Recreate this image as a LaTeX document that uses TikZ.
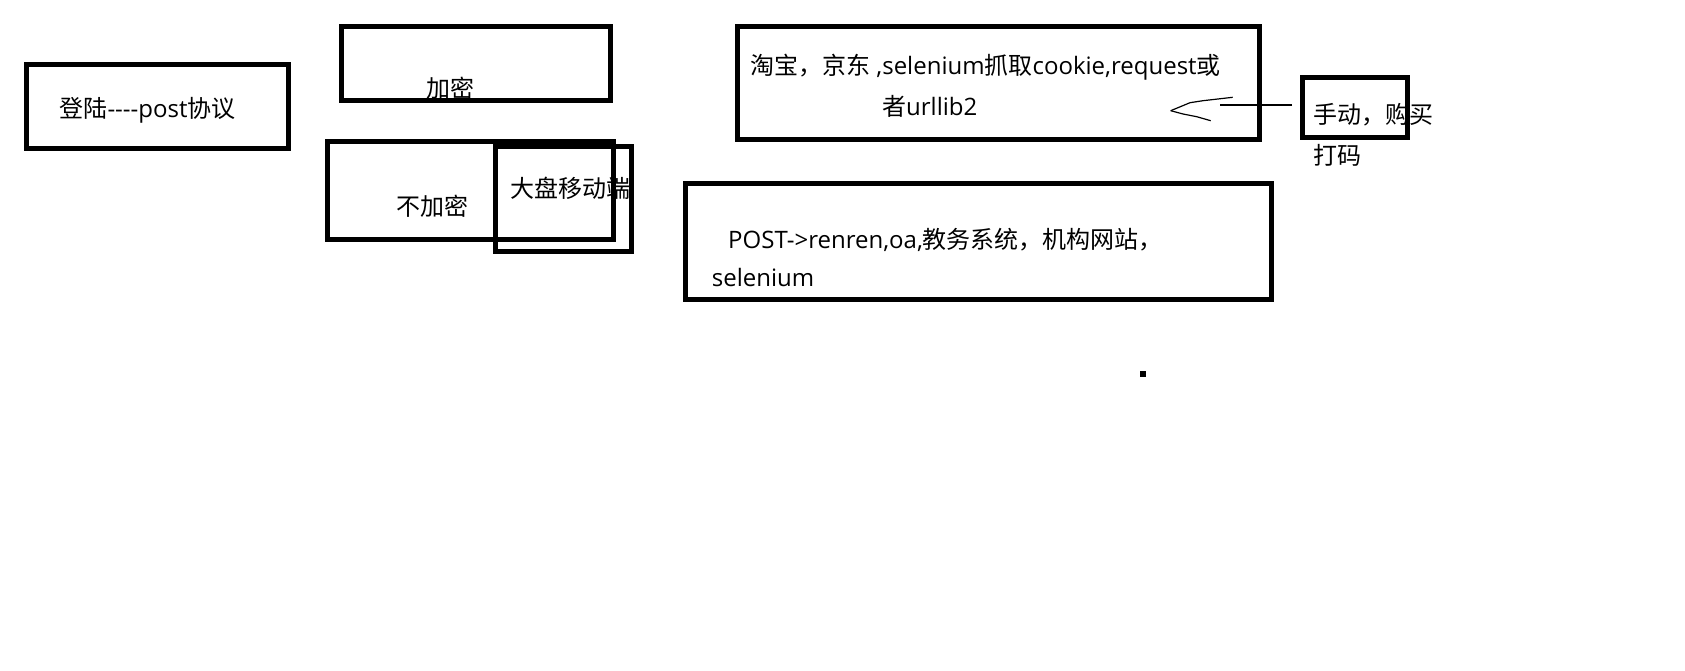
\documentclass[tikz,border=0pt]{standalone}
\usepackage{fontspec}
\newfontfamily\cjk{Noto Sans CJK SC}
\newfontfamily\lat{Open Sans}
\newcommand\zh[1]{{\cjk #1}}
\begin{document}
\begin{tikzpicture}[x=1pt,y=-1pt,
    box/.style={draw,line width=5pt,inner sep=0pt,outer sep=0pt},
    txt/.style={inner sep=0pt,anchor=west,font=\lat\fontsize{24pt}{28pt}\selectfont},
    pen/.style={line width=1.2pt}]
    \fill[white](0,0)rectangle(1685,671);
    \useasboundingbox(0,0)rectangle(1685,671);
    \node[box,minimum width=262pt,minimum height=84pt](login)at(157.9,106.2){};
    \node[box,minimum width=268.4pt,minimum height=74pt](enc)at(476,63.8){};
    \node[box,minimum width=286pt,minimum height=97.5pt](noenc)at(470.5,190.4){};
    \node[box,minimum width=136pt,minimum height=104.2pt](mobile)at(563.8,198.9){};
    \node[box,minimum width=522pt,minimum height=113pt](taobao)at(998,83.5){};
    \node[box,minimum width=105pt,minimum height=60pt](manual)at(1354.5,108){};
    \node[box,minimum width=585.5pt,minimum height=116pt](post)at(978.3,241.5){};
    \node[txt](loginT)at(59.3,110){\zh{登陆}----post\zh{协议}};
    \node[txt](encT)at(426,88.3){\zh{加密}};
    \node[txt](noencT)at(396,206){\zh{不加密}};
    \node[txt](mobileT)at(510,188.3){\zh{大盘移动端}};
    \node[txt](taobaoA)at(750,67){\zh{淘宝，京东} ,selenium\zh{抓取}cookie,request\zh{或}};
    \node[txt](taobaoB)at(882,106){\zh{者}urllib2};
    \node[txt](manualA)at(1313,115){\zh{手动，购买}};
    \node[txt](manualB)at(1313,155){\zh{打码}};
    \node[txt](postA)at(728,240){POST->renren,oa,\zh{教务系统，机构网站，}};
    \node[txt](postB)at(711.7,277){selenium};
    \coordinate(tip)at(1220,105);
    \draw[pen]([shift={(-10,-3)}]manual.west)--(tip);
    \draw[pen](1232.7,97.3)--(1203,100.7)--(1190,102.7)--(1170.7,110.7);
    \draw[pen](1170.7,110.7)--(1183,114)--(1196.7,116.7)--(1210.7,120.7);
    \fill(1140,371)rectangle(1146,377);
\end{tikzpicture}
\end{document}
